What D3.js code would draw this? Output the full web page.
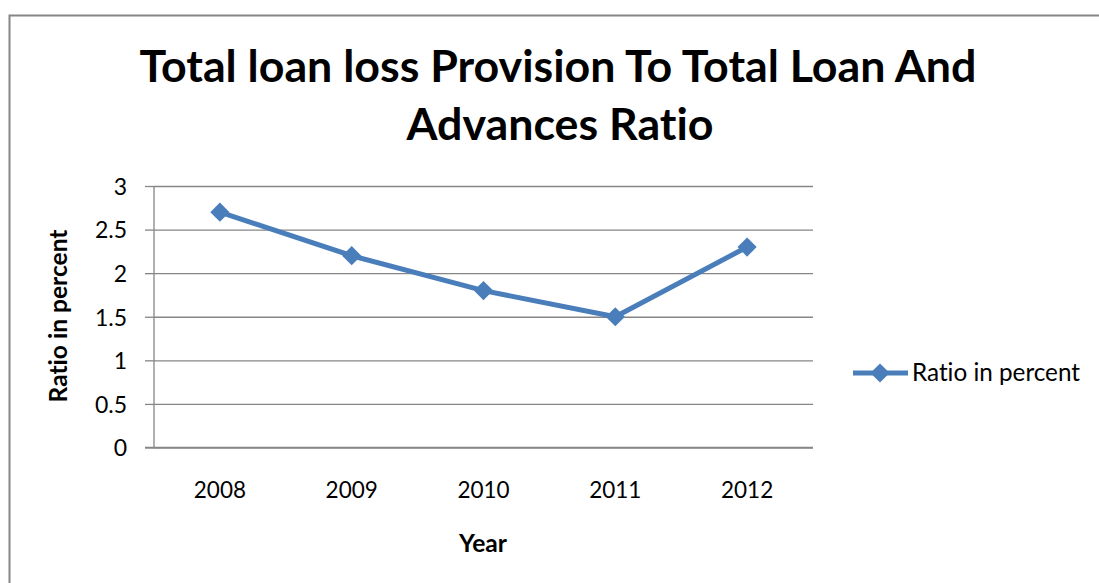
<!DOCTYPE html>
<html>
<head>
<meta charset="utf-8">
<script src="https://cdn.jsdelivr.net/npm/d3@7"></script>
<style>
  html, body { margin: 0; padding: 0; background: #fff; }
  svg text { font-family: Lato, "Open Sans", sans-serif; fill: #000; font-variant-ligatures: none; font-feature-settings: "liga" 0, "clig" 0; }
</style>
</head>
<body>
<svg id="chart" width="1099" height="583"></svg>
<script>
const years = ["2008", "2009", "2010", "2011", "2012"];
const ratioValues = [2.7, 2.2, 1.8, 1.5, 2.3];
const yTicks = [0, 0.5, 1, 1.5, 2, 2.5, 3];
const titleLines = ["Total loan loss Provision To Total Loan And", "Advances Ratio"];
const seriesName = "Ratio in percent";
const xTitle = "Year";
const yTitle = "Ratio in percent";

const svg = d3.select("#chart");
const gridColor = "#868686";
const lineColor = "#4a7ebb";

function fit(sel, targetW) {
  const w = sel.node().getComputedTextLength();
  const fs = parseFloat(sel.attr("font-size"));
  if (w > 0) sel.attr("font-size", (fs * targetW / w).toFixed(2));
  return sel;
}

svg.append("rect")
  .attr("x", 9.5).attr("y", 15.5)
  .attr("width", 1120).attr("height", 600)
  .attr("fill", "none").attr("stroke", gridColor).attr("stroke-width", 2);

const plot = { left: 154, right: 813, top: 186, bottom: 447.5 };

const x = d3.scaleBand().domain(years).range([plot.left, plot.right]);
const y = d3.scaleLinear().domain([0, 3]).range([plot.bottom, plot.top]);

const t1 = svg.append("text").attr("x", 558).attr("y", 82)
  .attr("text-anchor", "middle").attr("font-weight", "bold").attr("font-size", 40)
  .text(titleLines[0]);
fit(t1, 837);
svg.append("text").attr("x", 560).attr("y", 140)
  .attr("text-anchor", "middle").attr("font-weight", "bold")
  .attr("font-size", t1.attr("font-size"))
  .text(titleLines[1]);

const yAxis = d3.axisLeft(y).tickValues(yTicks).tickSize(-(plot.right - plot.left)).tickFormat("");
const gy = svg.append("g").attr("transform", `translate(${plot.left},0)`).call(yAxis);
gy.select(".domain").remove();
gy.selectAll(".tick line").attr("stroke", gridColor).attr("stroke-width", 1.3);

const yAxis2 = d3.axisLeft(y).tickValues(yTicks).tickSize(9).tickPadding(18)
  .tickFormat(d => String(d));
const gy2 = svg.append("g").attr("transform", `translate(${plot.left},0)`).call(yAxis2);
gy2.attr("font-size", null).attr("font-family", null);
gy2.select(".domain").attr("stroke", gridColor).attr("stroke-width", 1.3)
  .attr("d", `M0,${plot.top}V${plot.bottom}`);
gy2.selectAll(".tick line").attr("stroke", gridColor).attr("stroke-width", 1.3);
gy2.selectAll(".tick text").attr("font-size", 23)
  .attr("fill", "#000").attr("dy", "0.36em");

const xAxis = d3.axisBottom(x).tickSize(0).tickPadding(50);
const gx = svg.append("g").attr("transform", `translate(0,${plot.bottom})`).call(xAxis);
gx.attr("font-size", null).attr("font-family", null);
gx.select(".domain").attr("stroke", gridColor).attr("stroke-width", 1.3)
  .attr("d", `M${plot.left - 9},0H${plot.right}`);
gx.selectAll(".tick text").attr("font-size", 22.5)
  .attr("fill", "#000").attr("dy", "0");

const xt = svg.append("text").attr("x", 483).attr("y", 552)
  .attr("text-anchor", "middle").attr("font-weight", "bold").attr("font-size", 21)
  .text(xTitle);
fit(xt, 48);
const yt = svg.append("text")
  .attr("transform", "translate(67,316) rotate(-90)")
  .attr("text-anchor", "middle").attr("font-weight", "bold").attr("font-size", 19)
  .text(yTitle);
fit(yt, 173);

const line = d3.line().x((d, i) => x(years[i]) + x.bandwidth() / 2).y(d => y(d));
svg.append("path").datum(ratioValues)
  .attr("d", line).attr("fill", "none")
  .attr("stroke", lineColor).attr("stroke-width", 5).attr("stroke-linejoin", "round");

svg.selectAll(".pt").data(ratioValues).enter().append("path")
  .attr("class", "pt")
  .attr("transform", (d, i) => `translate(${x(years[i]) + x.bandwidth() / 2},${y(d)}) rotate(45)`)
  .attr("d", d3.symbol().type(d3.symbolSquare).size(185))
  .attr("fill", lineColor);

const ly = 373;
svg.append("line").attr("x1", 853).attr("x2", 908).attr("y1", ly).attr("y2", ly)
  .attr("stroke", lineColor).attr("stroke-width", 5);
svg.append("path").attr("transform", `translate(880,${ly}) rotate(45)`)
  .attr("d", d3.symbol().type(d3.symbolSquare).size(185)).attr("fill", lineColor);
const lt = svg.append("text").attr("x", 912).attr("y", 381)
  .attr("font-size", 20).text(seriesName);
fit(lt, 168);
</script>
</body>
</html>
